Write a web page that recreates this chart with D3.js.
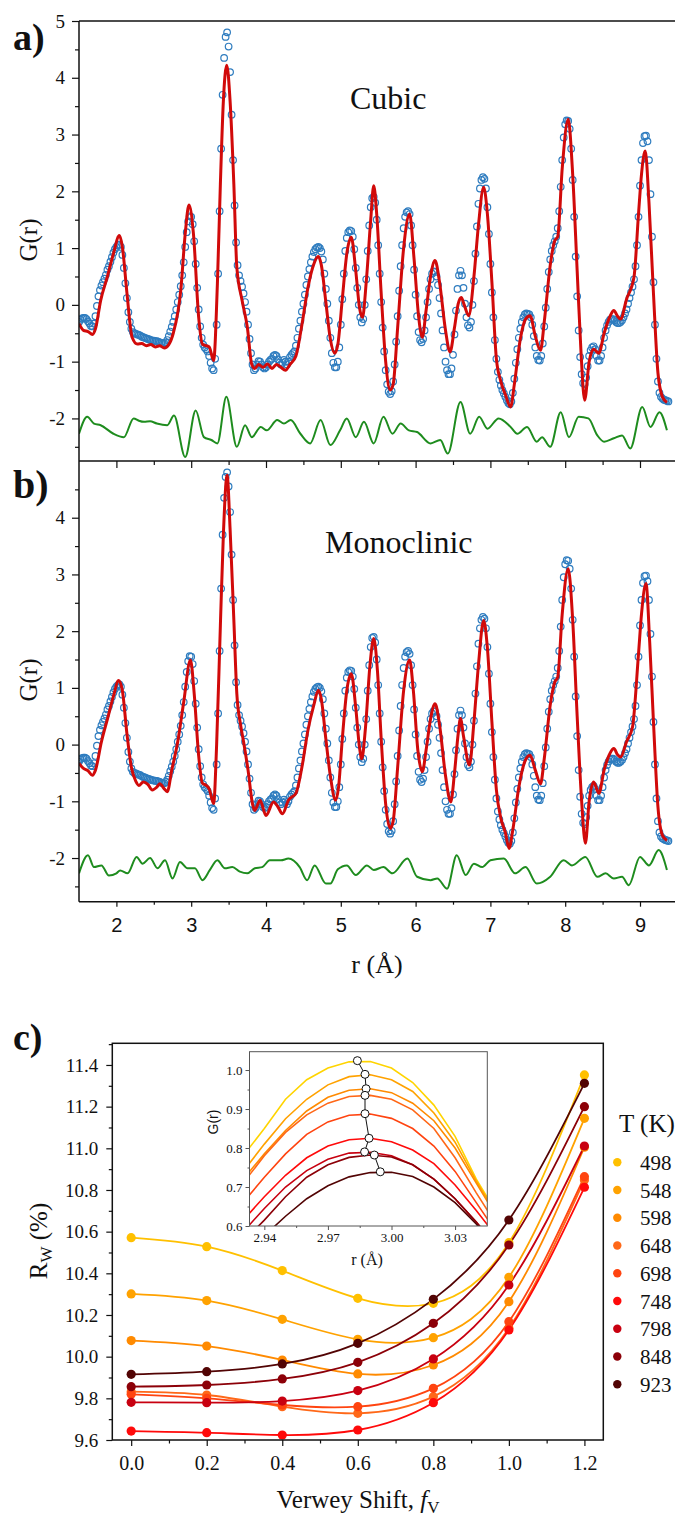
<!DOCTYPE html>
<html lang="en">
<head>
  <meta charset="UTF-8">
  <title>PDF fits and Verwey shift</title>
  <style>
  body { margin: 0; background: #fff; }
  svg { display: block; }
  .obs { fill: none; stroke: #2e7cbf; stroke-width: 1.2px; }
  .calc { fill: none; stroke: #d10a0a; stroke-width: 3px; }
  .diff { fill: none; stroke: #1e8c1e; stroke-width: 2px; }
  .frame { stroke: #111; stroke-width: 1.5px; fill: none; }
  .axis path.domain { display: none; }
  .axis line { stroke: #111; stroke-width: 1.2px; }
  .axis text { fill: #111; }
  .inset line { stroke: #555; stroke-width: 1px; }
  </style>
</head>
<body>
  <svg width="675" height="1517"></svg>
  <script src="https://d3js.org/d3.v7.min.js"></script>
  <script>

  // ---- panels a) and b): measured G(r) on a 0.02 A grid starting at 1.5 A
  var rStart = 1.5, rStep = 0.02;
  var gObs = [
    -0.30,-0.26,-0.24,-0.23,-0.23,-0.25,-0.29,-0.33,-0.37,-0.38,
    -0.33,-0.20,-0.02,0.15,0.26,0.34,0.40,0.46,0.53,0.62,
    0.68,0.76,0.84,0.92,0.98,1.02,1.05,1.06,1.02,0.88,
    0.65,0.38,0.12,-0.13,-0.30,-0.42,-0.48,-0.50,-0.51,-0.52,
    -0.53,-0.54,-0.56,-0.57,-0.58,-0.59,-0.60,-0.61,-0.62,-0.63,
    -0.63,-0.64,-0.64,-0.65,-0.66,-0.67,-0.68,-0.68,-0.66,-0.62,
    -0.55,-0.47,-0.39,-0.30,-0.20,-0.08,0.05,0.18,0.33,0.52,
    0.75,1.02,1.28,1.47,1.56,1.55,1.42,1.12,0.72,0.30,
    -0.08,-0.38,-0.58,-0.70,-0.75,-0.78,-0.82,-0.90,-1.02,-1.12,
    -1.15,-0.95,-0.35,0.55,1.65,2.75,3.70,4.35,4.72,4.80,
    4.55,4.10,3.35,2.55,1.75,1.10,0.70,0.52,0.42,0.32,
    0.20,0.05,-0.12,-0.35,-0.60,-0.85,-1.05,-1.15,-1.12,-1.05,
    -0.99,-1.00,-1.05,-1.10,-1.12,-1.10,-1.05,-1.00,-0.97,-0.95,
    -0.90,-0.88,-0.90,-0.96,-1.02,-1.05,-1.02,-0.97,-1.00,-1.05,
    -1.00,-0.92,-0.88,-0.85,-0.82,-0.72,-0.58,-0.42,-0.28,-0.12,
    0.02,0.18,0.35,0.50,0.63,0.75,0.85,0.93,0.98,1.01,
    1.02,1.00,0.94,0.80,0.55,0.28,0.02,-0.28,-0.58,-0.85,
    -1.02,-1.10,-1.10,-1.00,-0.75,-0.35,0.10,0.55,0.95,1.18,
    1.28,1.31,1.30,1.20,0.98,0.65,0.30,0.00,-0.22,-0.31,
    -0.25,0.00,0.45,0.95,1.40,1.72,1.88,1.90,1.80,1.50,
    1.05,0.55,0.05,-0.40,-0.82,-1.15,-1.40,-1.53,-1.57,-1.52,
    -1.35,-1.05,-0.65,-0.20,0.25,0.68,1.05,1.35,1.55,1.63,
    1.65,1.60,1.40,1.05,0.62,0.18,-0.20,-0.48,-0.62,-0.66,
    -0.60,-0.45,-0.22,0.05,0.28,0.45,0.55,0.59,0.58,0.50,
    0.35,0.12,-0.15,-0.45,-0.75,-1.00,-1.15,-1.22,-1.22,-1.12,
    -0.88,-0.52,-0.10,0.28,0.52,0.60,0.52,0.30,0.02,-0.22,
    -0.36,-0.40,-0.30,0.00,0.42,0.90,1.38,1.78,2.05,2.20,
    2.25,2.22,2.05,1.72,1.25,0.72,0.22,-0.22,-0.62,-0.95,
    -1.18,-1.32,-1.42,-1.50,-1.56,-1.62,-1.68,-1.73,-1.75,-1.70,
    -1.55,-1.30,-1.02,-0.78,-0.58,-0.42,-0.30,-0.22,-0.17,-0.15,
    -0.16,-0.17,-0.22,-0.35,-0.55,-0.75,-0.90,-0.97,-0.98,-0.90,
    -0.68,-0.38,-0.05,0.28,0.58,0.80,0.95,1.05,1.12,1.20,
    1.35,1.65,2.08,2.55,2.95,3.18,3.25,3.24,3.10,2.75,
    2.20,1.55,0.85,0.15,-0.45,-0.92,-1.22,-1.38,-1.40,-1.28,
    -1.08,-0.90,-0.80,-0.75,-0.73,-0.78,-0.90,-0.98,-0.98,-0.90,
    -0.75,-0.58,-0.45,-0.36,-0.30,-0.26,-0.25,-0.25,-0.27,-0.30,
    -0.32,-0.32,-0.30,-0.27,-0.22,-0.15,-0.08,0.02,0.12,0.22,
    0.32,0.45,0.68,1.05,1.55,2.10,2.55,2.85,2.97,2.98,
    2.88,2.55,1.95,1.20,0.40,-0.35,-0.95,-1.35,-1.55,-1.62,
    -1.65,-1.67,-1.68,-1.69,-1.70
  ];

  // calculated G(r), [r, G] pairs read at peaks, troughs and flanks
  var calcCubic = [
    [1.50,-0.33],[1.56,-0.45],[1.62,-0.47],[1.68,-0.52],[1.72,-0.42],[1.79,0.08],[1.88,0.50],[1.96,0.90],
    [2.04,1.22],[2.08,1.02],[2.14,0.22],[2.21,-0.57],[2.28,-0.69],[2.34,-0.68],[2.40,-0.72],[2.46,-0.70],
    [2.52,-0.74],[2.58,-0.72],[2.64,-0.76],[2.70,-0.70],[2.76,-0.50],[2.86,0.25],[2.92,1.25],[2.97,1.76],
    [3.03,1.25],[3.10,-0.22],[3.15,-0.69],[3.20,-0.72],[3.24,-0.74],[3.30,-0.98],[3.35,0.37],[3.39,2.13],
    [3.43,3.59],[3.475,4.22],[3.52,3.59],[3.57,2.13],[3.61,0.66],[3.68,0.08],[3.75,-0.39],[3.81,-1.05],
    [3.85,-1.12],[3.90,-1.05],[3.96,-1.10],[4.02,-1.04],[4.08,-1.12],[4.14,-1.05],[4.20,-1.10],[4.26,-1.15],
    [4.32,-1.05],[4.40,-0.90],[4.48,-0.35],[4.56,0.30],[4.64,0.72],[4.70,0.85],[4.74,0.70],[4.80,0.05],
    [4.86,-0.60],[4.92,-0.85],[4.96,-0.70],[5.02,0.10],[5.08,0.90],[5.14,1.19],[5.20,0.60],[5.25,-0.05],
    [5.29,-0.22],[5.34,0.40],[5.40,1.50],[5.44,2.10],[5.48,1.60],[5.54,0.20],[5.60,-1.00],[5.66,-1.50],
    [5.70,-1.40],[5.76,-0.40],[5.84,1.00],[5.92,1.60],[5.98,0.80],[6.04,-0.20],[6.09,-0.57],[6.14,-0.10],
    [6.20,0.50],[6.26,0.78],[6.32,0.40],[6.40,-0.45],[6.46,-0.83],[6.52,-0.40],[6.57,0.02],[6.61,0.13],
    [6.65,0.00],[6.71,-0.19],[6.78,0.50],[6.84,1.40],[6.91,2.07],[6.96,1.60],[7.02,0.40],[7.08,-0.95],
    [7.14,-1.35],[7.20,-1.58],[7.27,-1.80],[7.32,-1.40],[7.40,-0.60],[7.47,-0.25],[7.53,-0.19],[7.60,-0.55],
    [7.67,-0.80],[7.72,-0.30],[7.80,0.70],[7.86,1.13],[7.90,1.20],[7.96,2.40],[8.04,3.27],[8.10,2.30],
    [8.16,0.60],[8.21,-0.80],[8.26,-1.68],[8.32,-1.00],[8.38,-0.78],[8.45,-0.85],[8.52,-0.50],[8.60,-0.20],
    [8.65,-0.10],[8.70,-0.20],[8.74,-0.25],[8.82,0.10],[8.92,0.49],[8.98,1.60],[9.02,2.30],[9.07,2.71],
    [9.12,1.80],[9.18,0.20],[9.24,-1.20],[9.30,-1.62],[9.36,-1.72]
  ];

  var calcMono = [
    [1.50,-0.33],[1.56,-0.42],[1.62,-0.46],[1.68,-0.54],[1.72,-0.45],[1.80,0.05],[1.88,0.45],[1.96,0.85],
    [2.03,1.13],[2.08,0.95],[2.14,0.20],[2.20,-0.40],[2.26,-0.65],[2.30,-0.72],[2.36,-0.66],[2.42,-0.70],
    [2.48,-0.80],[2.54,-0.75],[2.58,-0.69],[2.64,-0.78],[2.68,-0.83],[2.74,-0.45],[2.82,0.05],[2.90,0.75],
    [2.99,1.49],[3.04,0.90],[3.10,-0.20],[3.15,-0.68],[3.20,-0.72],[3.24,-0.78],[3.30,-1.04],[3.34,0.00],
    [3.39,2.10],[3.43,3.70],[3.48,4.75],[3.52,3.80],[3.57,2.20],[3.61,0.90],[3.66,0.35],[3.70,0.05],
    [3.76,-0.45],[3.82,-1.05],[3.85,-1.16],[3.92,-0.98],[4.00,-1.25],[4.10,-1.01],[4.16,-1.10],[4.22,-1.22],
    [4.30,-0.98],[4.40,-0.86],[4.48,-0.40],[4.56,0.25],[4.64,0.70],[4.70,0.96],[4.74,0.80],[4.80,0.10],
    [4.86,-0.55],[4.93,-0.98],[4.97,-0.75],[5.02,0.10],[5.08,0.95],[5.14,1.25],[5.20,0.65],[5.25,-0.05],
    [5.28,-0.25],[5.33,0.30],[5.39,1.40],[5.44,1.87],[5.49,1.30],[5.54,0.10],[5.60,-1.05],[5.66,-1.48],
    [5.70,-1.35],[5.76,-0.40],[5.84,0.95],[5.92,1.49],[5.97,0.95],[6.03,-0.10],[6.09,-0.48],[6.14,-0.10],
    [6.20,0.45],[6.26,0.72],[6.32,0.35],[6.40,-0.55],[6.47,-1.01],[6.52,-0.50],[6.57,0.20],[6.60,0.46],
    [6.64,0.15],[6.72,-0.36],[6.78,0.40],[6.84,1.40],[6.91,2.19],[6.96,1.70],[7.02,0.40],[7.08,-0.80],
    [7.14,-1.30],[7.20,-1.55],[7.25,-1.83],[7.30,-1.50],[7.38,-0.75],[7.46,-0.30],[7.53,-0.19],[7.60,-0.45],
    [7.67,-0.69],[7.72,-0.25],[7.80,0.70],[7.86,1.10],[7.90,1.19],[7.96,2.30],[8.04,3.10],[8.10,2.20],
    [8.16,0.50],[8.22,-1.00],[8.27,-1.74],[8.32,-1.00],[8.38,-0.66],[8.45,-0.86],[8.52,-0.45],[8.60,-0.15],
    [8.65,-0.07],[8.70,-0.18],[8.74,-0.22],[8.82,0.05],[8.90,0.31],[8.98,1.60],[9.02,2.30],[9.08,2.84],
    [9.13,1.80],[9.18,0.40],[9.24,-1.10],[9.30,-1.60],[9.36,-1.69]
  ];

  // difference curves (already offset in the figure)
  var diffCubic = [
    [1.50,-2.27],[1.61,-1.97],[1.70,-2.09],[1.79,-2.12],[1.96,-2.27],[2.10,-2.33],[2.23,-2.00],[2.30,-2.04],
    [2.37,-2.06],[2.45,-2.05],[2.54,-2.09],[2.68,-2.12],[2.77,-1.95],[2.92,-2.68],[3.06,-1.86],[3.17,-2.33],
    [3.27,-2.38],[3.35,-2.44],[3.47,-1.62],[3.61,-2.50],[3.72,-2.12],[3.81,-2.33],[3.93,-2.15],[4.01,-2.21],
    [4.15,-2.03],[4.24,-2.09],[4.33,-2.03],[4.46,-2.27],[4.59,-2.44],[4.73,-2.03],[4.86,-2.47],[4.99,-2.21],
    [5.08,-2.00],[5.20,-2.33],[5.31,-2.06],[5.44,-2.44],[5.57,-1.97],[5.69,-2.27],[5.80,-2.09],[5.91,-2.21],
    [6.02,-2.24],[6.20,-2.44],[6.33,-2.38],[6.43,-2.62],[6.60,-1.71],[6.73,-2.27],[6.85,-1.97],[6.96,-2.18],
    [7.11,-2.00],[7.27,-2.15],[7.36,-2.27],[7.49,-2.15],[7.62,-2.41],[7.69,-2.33],[7.80,-2.50],[7.94,-1.89],
    [8.05,-2.33],[8.18,-1.97],[8.31,-2.00],[8.43,-2.30],[8.52,-2.41],[8.65,-2.35],[8.76,-2.30],[8.87,-2.53],
    [9.03,-1.80],[9.14,-2.15],[9.26,-1.89],[9.36,-2.21]
  ];

  var diffMono = [
    [1.50,-2.27],[1.62,-1.95],[1.70,-2.16],[1.80,-2.13],[1.90,-2.31],[2.00,-2.27],[2.05,-2.22],[2.15,-2.27],
    [2.27,-1.98],[2.35,-2.10],[2.45,-2.00],[2.55,-2.18],[2.65,-2.04],[2.75,-2.36],[2.85,-2.07],[2.95,-2.18],
    [3.05,-2.18],[3.15,-2.39],[3.25,-2.21],[3.35,-2.04],[3.45,-2.18],[3.55,-2.16],[3.65,-2.24],[3.75,-2.27],
    [3.85,-2.18],[3.95,-2.16],[4.05,-2.04],[4.20,-2.04],[4.30,-2.01],[4.45,-2.16],[4.55,-2.39],[4.65,-2.13],
    [4.80,-2.45],[4.86,-2.45],[4.96,-2.20],[5.08,-2.13],[5.20,-2.30],[5.35,-2.13],[5.44,-2.21],[5.57,-2.16],
    [5.69,-2.27],[5.89,-2.01],[6.02,-2.33],[6.20,-2.39],[6.29,-2.36],[6.42,-2.54],[6.55,-1.95],[6.67,-2.30],
    [6.78,-2.10],[6.89,-2.16],[7.00,-2.04],[7.18,-2.01],[7.33,-2.27],[7.47,-2.16],[7.62,-2.45],[7.80,-2.33],
    [7.98,-2.04],[8.09,-2.13],[8.27,-1.98],[8.43,-2.33],[8.54,-2.27],[8.65,-2.36],[8.76,-2.33],[8.85,-2.48],
    [9.00,-1.98],[9.12,-2.13],[9.25,-1.86],[9.36,-2.21]
  ];

  var gTicksA = [-2, -1, 0, 1, 2, 3, 4, 5];
  var gTicksB = [-2, -1, 0, 1, 2, 3, 4];
  var rTicks = [2, 3, 4, 5, 6, 7, 8, 9];

  // ---- panel c): Rw vs Verwey shift for each temperature
  var shifts = [0, 0.2, 0.4, 0.6, 0.8, 1.0, 1.2];
  var temps = ['498', '548', '598', '648', '698', '748', '798', '848', '923'];
  var colours = ['#ffc000', '#ffa200', '#ff8a00', '#ff6818', '#ff4410', '#ff0a0a', '#c80010', '#8c0008', '#520404'];
  var rw498 = [10.571, 10.528, 10.413, 10.280, 10.256, 10.547, 11.352];
  var rw548 = [10.301, 10.269, 10.179, 10.083, 10.091, 10.381, 11.144];
  var rw598 = [10.077, 10.051, 9.984, 9.917, 9.960, 10.264, 11.005];
  var rw648 = [9.832, 9.816, 9.760, 9.728, 9.808, 10.136, 10.848];
  var rw698 = [9.819, 9.800, 9.768, 9.760, 9.848, 10.168, 10.864];
  var rw748 = [9.643, 9.635, 9.624, 9.648, 9.779, 10.128, 10.813];
  var rw798 = [9.781, 9.779, 9.787, 9.837, 9.989, 10.344, 11.011];
  var rw848 = [9.856, 9.864, 9.893, 9.973, 10.160, 10.536, 11.200];
  var rw923 = [9.915, 9.928, 9.965, 10.064, 10.275, 10.656, 11.312];
  var rwTicks = [9.6, 9.8, 10.0, 10.2, 10.4, 10.6, 10.8, 11.0, 11.2, 11.4];
  var shiftTicks = [0, 0.2, 0.4, 0.6, 0.8, 1.0, 1.2];

  // inset: G(r) around the 2.99 A peak
  var insetR = [2.93, 2.94, 2.95, 2.96, 2.97, 2.98, 2.99, 3.00, 3.01, 3.02, 3.03, 3.04, 3.05];
  var in498 = [0.780, 0.850, 0.925, 0.975, 1.005, 1.021, 1.022, 1.005, 0.968, 0.910, 0.830, 0.720, 0.630];
  var in548 = [0.740, 0.810, 0.875, 0.925, 0.962, 0.983, 0.988, 0.975, 0.945, 0.890, 0.815, 0.715, 0.625];
  var in598 = [0.720, 0.785, 0.845, 0.895, 0.930, 0.948, 0.952, 0.942, 0.915, 0.870, 0.800, 0.710, 0.620];
  var in648 = [0.710, 0.780, 0.840, 0.885, 0.915, 0.932, 0.935, 0.925, 0.898, 0.850, 0.775, 0.685, 0.600];
  var in698 = [0.660, 0.725, 0.785, 0.835, 0.867, 0.884, 0.887, 0.876, 0.850, 0.805, 0.740, 0.660, 0.580];
  var in748 = [0.615, 0.675, 0.730, 0.775, 0.805, 0.821, 0.825, 0.816, 0.795, 0.760, 0.705, 0.640, 0.570];
  var in798 = [0.585, 0.645, 0.700, 0.742, 0.771, 0.787, 0.789, 0.780, 0.757, 0.720, 0.670, 0.610, 0.545];
  var in848 = [0.560, 0.615, 0.675, 0.725, 0.757, 0.776, 0.782, 0.777, 0.757, 0.720, 0.670, 0.610, 0.545];
  var in923 = [0.520, 0.575, 0.625, 0.670, 0.703, 0.726, 0.737, 0.738, 0.727, 0.700, 0.660, 0.605, 0.540];
  var peakR = [2.9839, 2.9875, 2.9880, 2.9875, 2.9875, 2.9894, 2.9873, 2.9919, 2.9947];
  var peakG = [1.024, 0.989, 0.952, 0.935, 0.888, 0.825, 0.790, 0.782, 0.739];
  var insetGTicks = [0.6, 0.7, 0.8, 0.9, 1.0];
  var insetRTicks = [2.94, 2.97, 3.00, 3.03];

  var serif = '"Liberation Serif", "Times New Roman", serif';
  var sans = '"Liberation Sans", Arial, sans-serif';

  var svg = d3.select('svg');

  // d3's axis sets its own font on the group, so the font goes on after the call
  function axisG(transform, axis, family, size, cls) {
    return svg.append('g')
              .attr('transform', transform)
              .call(axis)
              .attr('class', 'axis ' + (cls || ''))
              .attr('font-family', family)
              .attr('font-size', size);
  }

  // ================= a) and b) =================
  var x = d3.scaleLinear().domain([1.5, 9.5]).range([79, 677.4]);
  var yA = d3.scaleLinear().domain([-2.75, 5]).range([461, 21]);
  var yB = d3.scaleLinear().domain([-2.77, 5]).range([901.7, 461]);

  var obsPoints = gObs.map(function (v, i) { return { r: rStart + i * rStep, g: v }; });

  function drawPdf(y, calc, diff, id, ticks) {
    var top = y.range()[1], bottom = y.range()[0];

    svg.append('clipPath').attr('id', id)
       .append('rect').attr('x', 79).attr('y', top).attr('width', 600).attr('height', bottom - top);

    var g = svg.append('g').attr('clip-path', 'url(#' + id + ')');

    g.selectAll('circle')
     .data(obsPoints)
     .enter()
     .append('circle')
     .attr('class', 'obs')
     .attr('cx', function (d) { return x(d.r); })
     .attr('cy', function (d) { return y(d.g); })
     .attr('r', 3.3);

    var line = d3.line()
                 .x(function (d) { return x(d[0]); })
                 .y(function (d) { return y(d[1]); })
                 .curve(d3.curveMonotoneX);

    g.append('path').datum(calc).attr('class', 'calc').attr('d', line);
    g.append('path').datum(diff).attr('class', 'diff').attr('d', line);

    // y axis, major and minor ticks
    axisG('translate(79,0)',
          d3.axisLeft(y).tickValues(ticks).tickSize(7).tickPadding(7).tickFormat(String), serif, 19);
    axisG('translate(79,0)',
          d3.axisLeft(y).tickValues(d3.range(-2.5, 5, 1)).tickSize(4).tickFormat(''), serif, 19);

    svg.append('line').attr('class', 'frame')
       .attr('x1', 79).attr('x2', 79).attr('y1', top).attr('y2', bottom);
    svg.append('line').attr('class', 'frame')
       .attr('x1', 79).attr('x2', 675).attr('y1', bottom).attr('y2', bottom);
  }

  drawPdf(yA, calcCubic, diffCubic, 'clipA', gTicksA);
  drawPdf(yB, calcMono, diffMono, 'clipB', gTicksB);

  svg.append('line').attr('class', 'frame')
     .attr('x1', 79).attr('x2', 675).attr('y1', 21).attr('y2', 21);

  // shared r axis between a) and b): ticks only
  axisG('translate(0,461)', d3.axisBottom(x).tickValues(rTicks).tickSize(7).tickFormat(''), sans, 20);
  axisG('translate(0,461)', d3.axisBottom(x).tickValues(d3.range(2.5, 9.6, 1)).tickSize(4).tickFormat(''), sans, 20);

  // bottom r axis with labels
  axisG('translate(0,901.7)',
        d3.axisBottom(x).tickValues(rTicks).tickSize(5).tickPadding(11).tickFormat(String), sans, 20);
  axisG('translate(0,901.7)',
        d3.axisBottom(x).tickValues(d3.range(2.5, 9.6, 1)).tickSize(3).tickFormat(''), sans, 20);

  function label(txt, px, py, size, opts) {
    opts = opts || {};
    var t = svg.append('text')
               .attr('x', px).attr('y', py)
               .attr('font-family', opts.family || serif)
               .attr('font-size', size)
               .attr('font-weight', opts.weight || 'normal')
               .attr('text-anchor', opts.anchor || 'start')
               .attr('fill', '#111')
               .text(txt);
    if (opts.rotate) t.attr('transform', 'rotate(-90,' + px + ',' + py + ')');
    return t;
  }

  label('a)', 13, 50, 38, { weight: 'bold' });
  label('b)', 13, 498, 40, { weight: 'bold' });
  label('c)', 13, 1050, 38, { weight: 'bold' });
  label('Cubic', 350, 109, 32);
  label('Monoclinic', 325, 553, 32);
  label('G(r)', 37, 240, 25, { anchor: 'middle', rotate: true });
  label('G(r)', 37, 680, 25, { anchor: 'middle', rotate: true });
  label('r (Å)', 377, 973, 26, { anchor: 'middle' });

  // ================= c) =================
  var xc = d3.scaleLinear().domain([-0.05, 1.25]).range([112.3, 603.3]);
  var yc = d3.scaleLinear().domain([9.6, 11.504]).range([1440, 1043.3]);

  var series = [rw498, rw548, rw598, rw648, rw698, rw748, rw798, rw848, rw923];

  var lineC = d3.line()
                .x(function (d, i) { return xc(shifts[i]); })
                .y(function (d) { return yc(d); })
                .curve(d3.curveNatural);

  var gc = svg.append('g');
  series.forEach(function (s, k) {
    gc.append('path').datum(s)
      .attr('fill', 'none').attr('stroke', colours[k]).attr('stroke-width', 1.8)
      .attr('d', lineC);
  });
  series.forEach(function (s, k) {
    gc.selectAll(null)
      .data(s)
      .enter()
      .append('circle')
      .attr('cx', function (d, i) { return xc(shifts[i]); })
      .attr('cy', function (d) { return yc(d); })
      .attr('r', 4.6)
      .attr('fill', colours[k]);
  });

  svg.append('rect').attr('class', 'frame')
     .attr('x', 112.3).attr('y', 1043.3).attr('width', 491).attr('height', 396.7);

  axisG('translate(112.3,0)',
        d3.axisLeft(yc).tickValues(rwTicks).tickSize(6).tickPadding(8).tickFormat(d3.format('.1f')), serif, 19);
  axisG('translate(112.3,0)',
        d3.axisLeft(yc).tickValues(d3.range(9.7, 11.5, 0.2)).tickSize(3.5).tickFormat(''), serif, 19);
  axisG('translate(0,1440)',
        d3.axisBottom(xc).tickValues(shiftTicks).tickSize(6).tickPadding(10).tickFormat(d3.format('.1f')), serif, 20);
  axisG('translate(0,1440)',
        d3.axisBottom(xc).tickValues(d3.range(0.1, 1.2, 0.2)).tickSize(3.5).tickFormat(''), serif, 20);

  var rwLabel = svg.append('text')
                   .attr('transform', 'translate(47,1241) rotate(-90)')
                   .attr('text-anchor', 'middle')
                   .attr('font-family', serif).attr('font-size', 25).attr('fill', '#111');
  rwLabel.append('tspan').text('R');
  rwLabel.append('tspan').attr('font-size', 17).attr('dy', 5).text('W');
  rwLabel.append('tspan').attr('dy', -5).text(' (%)');

  var fvLabel = svg.append('text')
                   .attr('x', 358).attr('y', 1508)
                   .attr('text-anchor', 'middle')
                   .attr('font-family', serif).attr('font-size', 25).attr('fill', '#111');
  fvLabel.append('tspan').text('Verwey Shift, ');
  fvLabel.append('tspan').attr('font-style', 'italic').text('f');
  fvLabel.append('tspan').attr('font-size', 17).attr('dy', 5).text('V');

  // legend
  label('T (K)', 619, 1132, 25);
  var legend = svg.append('g');
  legend.selectAll('circle')
        .data(temps)
        .enter()
        .append('circle')
        .attr('cx', 617.3)
        .attr('cy', function (d, i) { return 1162.3 + i * 27.75; })
        .attr('r', 4.2)
        .attr('fill', function (d, i) { return colours[i]; });
  legend.selectAll('text')
        .data(temps)
        .enter()
        .append('text')
        .attr('x', 640)
        .attr('y', function (d, i) { return 1162.3 + i * 27.75 + 7.5; })
        .attr('font-family', serif).attr('font-size', 21).attr('fill', '#111')
        .text(function (d) { return d; });

  // ---- inset
  var xi = d3.scaleLinear().domain([2.933, 3.0452]).range([249.5, 487.3]);
  var yi = d3.scaleLinear().domain([0.6, 1.047]).range([1226, 1051.7]);

  svg.append('rect')
     .attr('x', 249.5).attr('y', 1051.7).attr('width', 237.8).attr('height', 174.3)
     .attr('fill', '#fff');

  svg.append('clipPath').attr('id', 'clipInset')
     .append('rect').attr('x', 249.5).attr('y', 1051.7).attr('width', 237.8).attr('height', 174.3);

  var gi = svg.append('g').attr('clip-path', 'url(#clipInset)');
  var insetSeries = [in498, in548, in598, in648, in698, in748, in798, in848, in923];
  var lineI = d3.line()
                .x(function (d, i) { return xi(insetR[i]); })
                .y(function (d) { return yi(d); });
  insetSeries.forEach(function (s, k) {
    gi.append('path').datum(s)
      .attr('fill', 'none').attr('stroke', k === 0 ? '#ffd400' : colours[k]).attr('stroke-width', 1.6)
      .attr('d', lineI);
  });

  var peaks = peakR.map(function (r, i) { return [r, peakG[i]]; });
  gi.append('path').datum(peaks)
    .attr('fill', 'none').attr('stroke', '#111').attr('stroke-width', 1)
    .attr('d', d3.line().x(function (d) { return xi(d[0]); }).y(function (d) { return yi(d[1]); }));
  gi.selectAll('circle.peak')
    .data(peaks)
    .enter()
    .append('circle')
    .attr('class', 'peak')
    .attr('cx', function (d) { return xi(d[0]); })
    .attr('cy', function (d) { return yi(d[1]); })
    .attr('r', 4)
    .attr('fill', '#fff').attr('stroke', '#111').attr('stroke-width', 1);

  svg.append('rect')
     .attr('x', 249.5).attr('y', 1051.7).attr('width', 237.8).attr('height', 174.3)
     .attr('fill', 'none').attr('stroke', '#555').attr('stroke-width', 1);

  axisG('translate(249.5,0)',
        d3.axisLeft(yi).tickValues(insetGTicks).tickSize(4).tickPadding(3).tickFormat(d3.format('.1f')), serif, 13, 'inset');
  axisG('translate(249.5,0)',
        d3.axisLeft(yi).tickValues([0.65, 0.75, 0.85, 0.95]).tickSize(2).tickFormat(''), serif, 13, 'inset');
  axisG('translate(0,1226)',
        d3.axisBottom(xi).tickValues(insetRTicks).tickSize(4).tickPadding(3).tickFormat(d3.format('.2f')), serif, 13, 'inset');
  axisG('translate(0,1226)',
        d3.axisBottom(xi).tickValues([2.955, 2.985, 3.015]).tickSize(2).tickFormat(''), serif, 13, 'inset');

  label('G(r)', 218, 1122, 14, { family: sans, anchor: 'middle', rotate: true });
  label('r (Å)', 367, 1265, 16, { anchor: 'middle' });
  </script>
</body>
</html>
